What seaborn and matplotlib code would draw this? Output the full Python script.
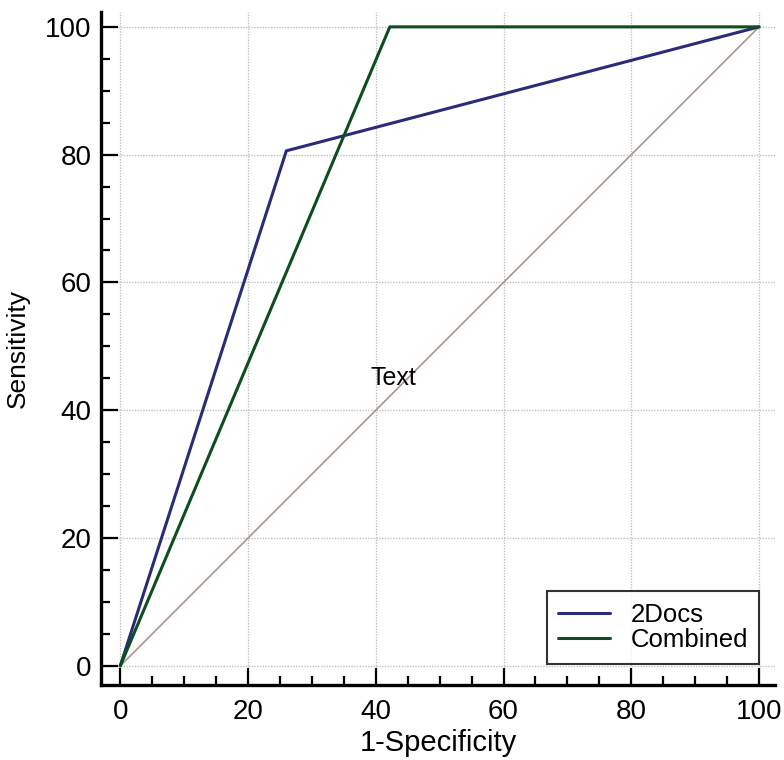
import matplotlib
matplotlib.use("Agg")
import matplotlib.pyplot as plt
import seaborn as sns
import pandas as pd
from matplotlib.ticker import MultipleLocator

fpr_2docs = [0, 26.0, 100]
tpr_2docs = [0, 80.6, 100]
fpr_comb = [0, 42.2, 100]
tpr_comb = [0, 100, 100]
diag = [0, 100]
ticks = [0, 20, 40, 60, 80, 100]

sns.set_theme(style="white")
plt.rcParams['font.family'] = ['Liberation Sans', 'DejaVu Sans']
plt.rcParams['text.color'] = 'black'
plt.rcParams['axes.labelcolor'] = 'black'
plt.rcParams['xtick.color'] = 'black'
plt.rcParams['ytick.color'] = 'black'

df = pd.concat([
    pd.DataFrame({"x": fpr_2docs, "y": tpr_2docs, "s": "2Docs"}),
    pd.DataFrame({"x": fpr_comb, "y": tpr_comb, "s": "Combined"}),
])

fig = plt.figure(figsize=(7.84, 7.6), dpi=100)
ax = fig.add_axes([0.129, 0.0987, 0.8595, 0.8853])

ax.grid(True, color="#c0c0c0", linestyle=(0, (1, 1)), linewidth=1.0)
ax.plot(diag, diag, color="#a89590", linewidth=1.2, zorder=2)
sns.lineplot(data=df, x="x", y="y", hue="s", palette={"2Docs": "#2a2c78", "Combined": "#0e4d1e"},
             linewidth=2.2, sort=False, estimator=None, ax=ax, zorder=3)

ax.set_xlim(-3, 102.5)
ax.set_ylim(-3, 102.3)
ax.set_xticks(ticks)
ax.set_yticks(ticks)
ax.xaxis.set_minor_locator(MultipleLocator(5))
ax.yaxis.set_minor_locator(MultipleLocator(5))
ax.tick_params(which="major", direction="in", length=12.5, width=1.6, labelsize=20, color="black",
               labelcolor="black", pad=7, bottom=True, left=True)
ax.tick_params(axis="x", which="major", pad=10)
ax.tick_params(which="minor", direction="in", length=6.5, width=1.6, color="black", bottom=True, left=True)
for s in ["top", "right"]:
    ax.spines[s].set_visible(False)
for s in ["left", "bottom"]:
    ax.spines[s].set_linewidth(2.4)
    ax.spines[s].set_color("black")

ax.set_xlabel("1-Specificity", fontsize=21, labelpad=3)
ax.set_ylabel("Sensitivity", fontsize=19, labelpad=11)

ax.text(39.2, 45, "Text", fontsize=18, va="center", ha="left")

leg = ax.legend(loc="lower right", bbox_to_anchor=(0.9768, 0.0315), fontsize=18.5, frameon=True,
                fancybox=False, edgecolor="black", borderpad=0.45, handlelength=2.0,
                handletextpad=0.8, labelspacing=0.05, borderaxespad=0)
leg.get_frame().set_linewidth(1.5)
leg.set_title(None)

fig.savefig("out.png", dpi=100)
